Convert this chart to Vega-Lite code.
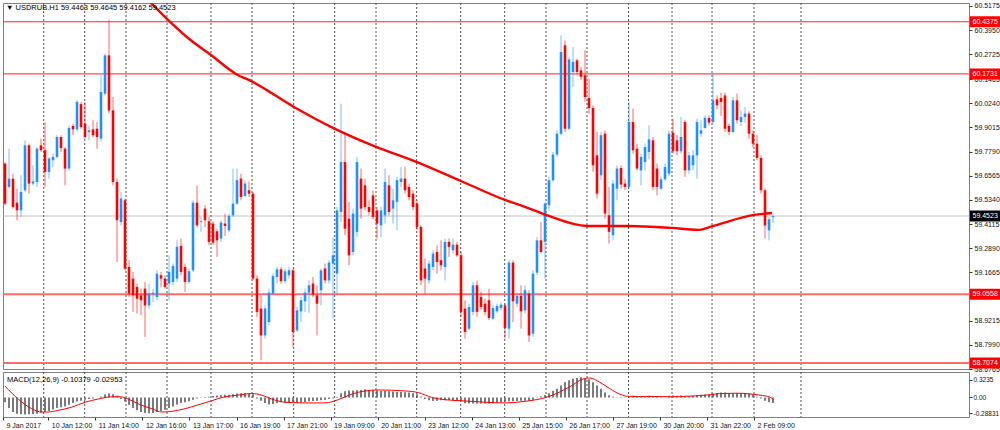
{
"$schema":"https://vega.github.io/schema/vega-lite/v6.json",
"background":"white",
"padding":{"left":1,"top":1,"right":0,"bottom":0},
"spacing":3,
"bounds":"flush",
"config":{"view":{"stroke":"#808080","strokeWidth":1},"font":"Liberation Sans","scale":{"continuousPadding":0},"axis":{"labelOverlap":false,"labelFlush":false,"grid":false,"domain":false,"title":null}},
"datasets":{
"k":[
{"i":0,"o":59.718,"h":59.726,"l":59.506,"c":59.515,"m":-0.089},
{"i":1,"o":59.600,"h":59.794,"l":59.591,"c":59.642,"m":-0.196},
{"i":2,"o":59.642,"h":59.667,"l":59.490,"c":59.498,"m":-0.268},
{"i":3,"o":59.520,"h":59.591,"l":59.431,"c":59.481,"m":-0.298},
{"i":4,"o":59.481,"h":59.659,"l":59.448,"c":59.574,"m":-0.310},
{"i":5,"o":59.583,"h":59.836,"l":59.574,"c":59.811,"m":-0.315},
{"i":6,"o":59.811,"h":59.819,"l":59.566,"c":59.617,"m":-0.310},
{"i":7,"o":59.617,"h":59.710,"l":59.608,"c":59.628,"m":-0.304},
{"i":8,"o":59.625,"h":59.802,"l":59.600,"c":59.794,"m":-0.298},
{"i":9,"o":59.811,"h":59.845,"l":59.777,"c":59.786,"m":-0.280},
{"i":10,"o":59.786,"h":59.929,"l":59.600,"c":59.676,"m":-0.268},
{"i":11,"o":59.676,"h":59.752,"l":59.642,"c":59.744,"m":-0.250},
{"i":12,"o":59.735,"h":59.769,"l":59.701,"c":59.752,"m":-0.220},
{"i":13,"o":59.752,"h":59.862,"l":59.744,"c":59.853,"m":-0.196},
{"i":14,"o":59.853,"h":59.862,"l":59.777,"c":59.797,"m":-0.179},
{"i":15,"o":59.794,"h":59.802,"l":59.608,"c":59.693,"m":-0.167},
{"i":16,"o":59.693,"h":59.912,"l":59.684,"c":59.899,"m":-0.137},
{"i":17,"o":59.909,"h":59.921,"l":59.862,"c":59.892,"m":-0.101},
{"i":18,"o":59.892,"h":60.039,"l":59.882,"c":60.031,"m":-0.077},
{"i":19,"o":60.020,"h":60.030,"l":59.895,"c":59.904,"m":-0.060},
{"i":20,"o":59.921,"h":60.031,"l":59.845,"c":59.853,"m":-0.042},
{"i":21,"o":59.878,"h":59.909,"l":59.836,"c":59.887,"m":-0.030},
{"i":22,"o":59.892,"h":59.938,"l":59.853,"c":59.862,"m":-0.018},
{"i":23,"o":59.895,"h":59.929,"l":59.794,"c":59.853,"m":0.000},
{"i":24,"o":59.845,"h":60.166,"l":59.828,"c":60.081,"m":0.018},
{"i":25,"o":60.073,"h":60.276,"l":60.064,"c":60.267,"m":0.054},
{"i":26,"o":60.267,"h":60.447,"l":59.972,"c":59.988,"m":0.071},
{"i":27,"o":59.988,"h":60.056,"l":59.608,"c":59.625,"m":0.060},
{"i":28,"o":59.625,"h":59.642,"l":59.219,"c":59.431,"m":0.030},
{"i":29,"o":59.422,"h":59.574,"l":59.405,"c":59.541,"m":-0.030},
{"i":30,"o":59.532,"h":59.541,"l":59.177,"c":59.186,"m":-0.077},
{"i":31,"o":59.194,"h":59.228,"l":59.042,"c":59.059,"m":-0.137},
{"i":32,"o":59.135,"h":59.169,"l":58.966,"c":59.050,"m":-0.196},
{"i":33,"o":59.093,"h":59.110,"l":58.957,"c":59.033,"m":-0.238},
{"i":34,"o":59.050,"h":59.084,"l":58.949,"c":59.025,"m":-0.268},
{"i":35,"o":59.084,"h":59.118,"l":58.839,"c":58.999,"m":-0.286},
{"i":36,"o":58.999,"h":59.110,"l":58.983,"c":59.059,"m":-0.292},
{"i":37,"o":59.059,"h":59.084,"l":59.016,"c":59.064,"m":-0.286},
{"i":38,"o":59.042,"h":59.177,"l":59.025,"c":59.160,"m":-0.268},
{"i":39,"o":59.152,"h":59.169,"l":59.093,"c":59.135,"m":-0.250},
{"i":40,"o":59.135,"h":59.152,"l":59.084,"c":59.093,"m":-0.226},
{"i":41,"o":59.110,"h":59.253,"l":59.025,"c":59.169,"m":-0.196},
{"i":42,"o":59.118,"h":59.211,"l":59.101,"c":59.199,"m":-0.167},
{"i":43,"o":59.135,"h":59.329,"l":59.118,"c":59.296,"m":-0.131},
{"i":44,"o":59.301,"h":59.338,"l":59.152,"c":59.169,"m":-0.101},
{"i":45,"o":59.194,"h":59.211,"l":59.067,"c":59.118,"m":-0.089},
{"i":46,"o":59.118,"h":59.186,"l":59.110,"c":59.172,"m":-0.071},
{"i":47,"o":59.177,"h":59.532,"l":59.169,"c":59.520,"m":-0.042},
{"i":48,"o":59.520,"h":59.608,"l":59.397,"c":59.405,"m":-0.018},
{"i":49,"o":59.422,"h":59.448,"l":59.372,"c":59.426,"m":-0.006},
{"i":50,"o":59.490,"h":59.507,"l":59.397,"c":59.431,"m":0.006},
{"i":51,"o":59.426,"h":59.448,"l":59.304,"c":59.321,"m":0.012},
{"i":52,"o":59.414,"h":59.426,"l":59.307,"c":59.317,"m":0.024},
{"i":53,"o":59.375,"h":59.388,"l":59.245,"c":59.329,"m":0.036},
{"i":54,"o":59.338,"h":59.431,"l":59.321,"c":59.419,"m":0.042},
{"i":55,"o":59.414,"h":59.465,"l":59.351,"c":59.402,"m":0.048},
{"i":56,"o":59.380,"h":59.465,"l":59.372,"c":59.453,"m":0.048},
{"i":57,"o":59.456,"h":59.693,"l":59.448,"c":59.515,"m":0.060},
{"i":58,"o":59.515,"h":59.693,"l":59.510,"c":59.634,"m":0.071},
{"i":59,"o":59.642,"h":59.667,"l":59.532,"c":59.549,"m":0.077},
{"i":60,"o":59.554,"h":59.634,"l":59.549,"c":59.617,"m":0.077},
{"i":61,"o":59.583,"h":59.628,"l":59.549,"c":59.566,"m":0.071},
{"i":62,"o":59.566,"h":59.574,"l":59.126,"c":59.135,"m":0.060},
{"i":63,"o":59.135,"h":59.152,"l":58.941,"c":58.966,"m":-0.018},
{"i":64,"o":58.983,"h":59.050,"l":58.721,"c":58.847,"m":-0.060},
{"i":65,"o":58.847,"h":58.999,"l":58.831,"c":58.983,"m":-0.101},
{"i":66,"o":58.915,"h":59.084,"l":58.898,"c":59.064,"m":-0.131},
{"i":67,"o":59.059,"h":59.160,"l":59.050,"c":59.148,"m":-0.119},
{"i":68,"o":59.143,"h":59.194,"l":59.110,"c":59.182,"m":-0.101},
{"i":69,"o":59.182,"h":59.194,"l":59.110,"c":59.122,"m":-0.089},
{"i":70,"o":59.122,"h":59.186,"l":59.110,"c":59.172,"m":-0.089},
{"i":71,"o":59.152,"h":59.194,"l":59.135,"c":59.177,"m":-0.083},
{"i":72,"o":59.177,"h":59.186,"l":58.788,"c":58.864,"m":-0.089},
{"i":73,"o":58.873,"h":58.991,"l":58.864,"c":58.974,"m":-0.101},
{"i":74,"o":58.969,"h":59.042,"l":58.915,"c":59.025,"m":-0.095},
{"i":75,"o":59.020,"h":59.084,"l":58.966,"c":59.064,"m":-0.083},
{"i":76,"o":59.064,"h":59.126,"l":58.962,"c":59.101,"m":-0.071},
{"i":77,"o":59.110,"h":59.143,"l":59.042,"c":59.054,"m":-0.065},
{"i":78,"o":59.050,"h":59.101,"l":58.847,"c":59.008,"m":-0.060},
{"i":79,"o":59.076,"h":59.186,"l":58.999,"c":59.177,"m":-0.054},
{"i":80,"o":59.186,"h":59.211,"l":59.110,"c":59.126,"m":-0.042},
{"i":81,"o":59.126,"h":59.228,"l":59.110,"c":59.216,"m":-0.030},
{"i":82,"o":59.211,"h":59.346,"l":58.932,"c":59.253,"m":-0.018},
{"i":83,"o":59.160,"h":59.498,"l":59.050,"c":59.481,"m":0.006},
{"i":84,"o":59.473,"h":60.022,"l":59.422,"c":59.726,"m":0.077},
{"i":85,"o":59.726,"h":59.879,"l":59.355,"c":59.388,"m":0.113},
{"i":86,"o":59.439,"h":59.524,"l":59.203,"c":59.253,"m":0.125},
{"i":87,"o":59.270,"h":59.490,"l":59.253,"c":59.465,"m":0.125},
{"i":88,"o":59.372,"h":59.752,"l":59.346,"c":59.726,"m":0.131},
{"i":89,"o":59.642,"h":59.693,"l":59.439,"c":59.490,"m":0.137},
{"i":90,"o":59.608,"h":59.642,"l":59.481,"c":59.498,"m":0.149},
{"i":91,"o":59.498,"h":59.532,"l":59.456,"c":59.473,"m":0.137},
{"i":92,"o":59.557,"h":59.583,"l":59.436,"c":59.448,"m":0.131},
{"i":93,"o":59.481,"h":59.498,"l":59.338,"c":59.414,"m":0.125},
{"i":94,"o":59.405,"h":59.498,"l":59.346,"c":59.481,"m":0.119},
{"i":95,"o":59.456,"h":59.693,"l":59.414,"c":59.625,"m":0.119},
{"i":96,"o":59.608,"h":59.659,"l":59.456,"c":59.473,"m":0.113},
{"i":97,"o":59.490,"h":59.591,"l":59.414,"c":59.532,"m":0.107},
{"i":98,"o":59.524,"h":59.651,"l":59.380,"c":59.634,"m":0.101},
{"i":99,"o":59.625,"h":59.701,"l":59.600,"c":59.642,"m":0.101},
{"i":100,"o":59.642,"h":59.701,"l":59.566,"c":59.583,"m":0.095},
{"i":101,"o":59.600,"h":59.617,"l":59.532,"c":59.549,"m":0.089},
{"i":102,"o":59.566,"h":59.583,"l":59.481,"c":59.498,"m":0.077},
{"i":103,"o":59.515,"h":59.532,"l":59.380,"c":59.397,"m":0.060},
{"i":104,"o":59.397,"h":59.405,"l":59.101,"c":59.126,"m":0.018},
{"i":105,"o":59.186,"h":59.236,"l":59.059,"c":59.135,"m":-0.030},
{"i":106,"o":59.126,"h":59.228,"l":59.110,"c":59.211,"m":-0.054},
{"i":107,"o":59.194,"h":59.279,"l":59.177,"c":59.262,"m":-0.065},
{"i":108,"o":59.270,"h":59.304,"l":59.160,"c":59.219,"m":-0.060},
{"i":109,"o":59.228,"h":59.329,"l":59.177,"c":59.203,"m":-0.054},
{"i":110,"o":59.194,"h":59.338,"l":59.126,"c":59.321,"m":-0.054},
{"i":111,"o":59.321,"h":59.338,"l":59.245,"c":59.296,"m":-0.048},
{"i":112,"o":59.279,"h":59.338,"l":59.262,"c":59.307,"m":-0.054},
{"i":113,"o":59.307,"h":59.321,"l":59.245,"c":59.253,"m":-0.060},
{"i":114,"o":59.253,"h":59.270,"l":58.941,"c":58.966,"m":-0.077},
{"i":115,"o":58.983,"h":59.025,"l":58.831,"c":58.864,"m":-0.107},
{"i":116,"o":58.881,"h":59.008,"l":58.873,"c":58.991,"m":-0.113},
{"i":117,"o":58.966,"h":59.118,"l":58.949,"c":59.101,"m":-0.113},
{"i":118,"o":59.101,"h":59.126,"l":58.941,"c":58.966,"m":-0.113},
{"i":119,"o":59.042,"h":59.067,"l":58.974,"c":58.991,"m":-0.113},
{"i":120,"o":59.008,"h":59.033,"l":58.949,"c":58.966,"m":-0.113},
{"i":121,"o":59.025,"h":59.084,"l":58.924,"c":58.935,"m":-0.113},
{"i":122,"o":58.932,"h":58.999,"l":58.924,"c":58.986,"m":-0.107},
{"i":123,"o":58.969,"h":59.008,"l":58.962,"c":58.996,"m":-0.101},
{"i":124,"o":58.986,"h":59.013,"l":58.974,"c":59.003,"m":-0.089},
{"i":125,"o":58.999,"h":59.008,"l":58.831,"c":58.885,"m":-0.077},
{"i":126,"o":58.881,"h":59.228,"l":58.831,"c":59.216,"m":-0.071},
{"i":127,"o":59.216,"h":59.228,"l":58.915,"c":59.020,"m":-0.071},
{"i":128,"o":59.008,"h":59.064,"l":58.991,"c":59.047,"m":-0.065},
{"i":129,"o":59.047,"h":59.101,"l":58.881,"c":58.969,"m":-0.060},
{"i":130,"o":58.974,"h":59.101,"l":58.957,"c":59.076,"m":-0.060},
{"i":131,"o":59.059,"h":59.076,"l":58.814,"c":58.847,"m":-0.060},
{"i":132,"o":58.856,"h":59.177,"l":58.839,"c":59.160,"m":-0.042},
{"i":133,"o":59.165,"h":59.346,"l":59.152,"c":59.329,"m":-0.006},
{"i":134,"o":59.329,"h":59.422,"l":59.262,"c":59.270,"m":0.018},
{"i":135,"o":59.321,"h":59.524,"l":59.135,"c":59.515,"m":0.042},
{"i":136,"o":59.507,"h":59.651,"l":59.481,"c":59.634,"m":0.077},
{"i":137,"o":59.634,"h":59.777,"l":59.625,"c":59.764,"m":0.119},
{"i":138,"o":59.764,"h":59.887,"l":59.752,"c":59.870,"m":0.161},
{"i":139,"o":59.870,"h":60.369,"l":59.862,"c":60.284,"m":0.220},
{"i":140,"o":60.318,"h":60.343,"l":59.879,"c":59.895,"m":0.280},
{"i":141,"o":59.895,"h":60.259,"l":59.887,"c":60.247,"m":0.315},
{"i":142,"o":60.183,"h":60.310,"l":60.107,"c":60.234,"m":0.345},
{"i":143,"o":60.242,"h":60.250,"l":60.174,"c":60.183,"m":0.357},
{"i":144,"o":60.191,"h":60.208,"l":60.141,"c":60.158,"m":0.369},
{"i":145,"o":60.166,"h":60.293,"l":60.031,"c":60.056,"m":0.357},
{"i":146,"o":60.051,"h":60.149,"l":59.972,"c":60.000,"m":0.327},
{"i":147,"o":60.000,"h":60.014,"l":59.676,"c":59.710,"m":0.280},
{"i":148,"o":59.760,"h":59.879,"l":59.541,"c":59.566,"m":0.220},
{"i":149,"o":59.659,"h":59.879,"l":59.634,"c":59.862,"m":0.161},
{"i":150,"o":59.870,"h":59.887,"l":59.439,"c":59.465,"m":0.089},
{"i":151,"o":59.456,"h":59.600,"l":59.312,"c":59.372,"m":0.042},
{"i":152,"o":59.355,"h":59.634,"l":59.329,"c":59.617,"m":0.012},
{"i":153,"o":59.591,"h":59.710,"l":59.532,"c":59.693,"m":-0.006},
{"i":154,"o":59.696,"h":59.710,"l":59.591,"c":59.612,"m":-0.012},
{"i":155,"o":59.617,"h":59.642,"l":59.583,"c":59.600,"m":-0.006},
{"i":156,"o":59.600,"h":60.031,"l":59.591,"c":59.929,"m":0.018},
{"i":157,"o":59.929,"h":59.997,"l":59.769,"c":59.786,"m":0.030},
{"i":158,"o":59.794,"h":59.819,"l":59.684,"c":59.693,"m":0.024},
{"i":159,"o":59.684,"h":59.769,"l":59.608,"c":59.752,"m":0.012},
{"i":160,"o":59.726,"h":59.819,"l":59.684,"c":59.802,"m":0.012},
{"i":161,"o":59.777,"h":59.912,"l":59.740,"c":59.841,"m":0.030},
{"i":162,"o":59.836,"h":59.853,"l":59.583,"c":59.600,"m":0.024},
{"i":163,"o":59.693,"h":59.718,"l":59.557,"c":59.600,"m":0.006},
{"i":164,"o":59.591,"h":59.651,"l":59.583,"c":59.639,"m":-0.006},
{"i":165,"o":59.639,"h":59.718,"l":59.628,"c":59.701,"m":0.000},
{"i":166,"o":59.667,"h":59.887,"l":59.655,"c":59.870,"m":0.030},
{"i":167,"o":59.875,"h":59.946,"l":59.769,"c":59.781,"m":0.036},
{"i":168,"o":59.836,"h":59.862,"l":59.760,"c":59.781,"m":0.030},
{"i":169,"o":59.781,"h":59.955,"l":59.769,"c":59.853,"m":0.036},
{"i":170,"o":59.929,"h":59.938,"l":59.651,"c":59.684,"m":0.024},
{"i":171,"o":59.684,"h":59.777,"l":59.667,"c":59.760,"m":0.024},
{"i":172,"o":59.710,"h":59.786,"l":59.684,"c":59.760,"m":0.030},
{"i":173,"o":59.760,"h":59.946,"l":59.642,"c":59.929,"m":0.042},
{"i":174,"o":59.870,"h":59.938,"l":59.853,"c":59.887,"m":0.048},
{"i":175,"o":59.899,"h":59.963,"l":59.895,"c":59.950,"m":0.054},
{"i":176,"o":59.950,"h":59.963,"l":59.912,"c":59.926,"m":0.060},
{"i":177,"o":59.929,"h":60.174,"l":59.921,"c":60.039,"m":0.071},
{"i":178,"o":60.044,"h":60.064,"l":59.993,"c":60.014,"m":0.083},
{"i":179,"o":60.051,"h":60.078,"l":59.960,"c":60.031,"m":0.089},
{"i":180,"o":60.064,"h":60.078,"l":59.879,"c":59.895,"m":0.089},
{"i":181,"o":59.909,"h":59.921,"l":59.862,"c":59.879,"m":0.077},
{"i":182,"o":59.879,"h":60.056,"l":59.870,"c":60.039,"m":0.077},
{"i":183,"o":60.039,"h":60.073,"l":59.921,"c":59.938,"m":0.083},
{"i":184,"o":59.929,"h":59.988,"l":59.909,"c":59.955,"m":0.083},
{"i":185,"o":59.955,"h":60.005,"l":59.926,"c":59.972,"m":0.077},
{"i":186,"o":59.972,"h":59.984,"l":59.845,"c":59.870,"m":0.065},
{"i":187,"o":59.870,"h":59.887,"l":59.802,"c":59.819,"m":0.048},
{"i":188,"o":59.819,"h":59.862,"l":59.735,"c":59.747,"m":0.012},
{"i":189,"o":59.747,"h":59.760,"l":59.566,"c":59.583,"m":-0.018},
{"i":190,"o":59.583,"h":59.591,"l":59.338,"c":59.405,"m":-0.060},
{"i":191,"o":59.380,"h":59.448,"l":59.329,"c":59.436,"m":-0.089},
{"i":192,"o":59.4463,"h":59.4645,"l":59.4162,"c":59.4523,"m":-0.10379}
],
"sig":[
{"i":0,"s":0.208},{"i":3.3,"s":-0.030},{"i":6.7,"s":-0.208},{"i":9.2,"s":-0.268},{"i":10.8,"s":-0.268},{"i":13.3,"s":-0.238},{"i":16.7,"s":-0.179},{"i":20,"s":-0.089},{"i":23.3,"s":-0.030},{"i":26.7,"s":0.012},{"i":28.75,"s":0.012},{"i":30.8,"s":-0.030},{"i":33.3,"s":-0.119},{"i":36.7,"s":-0.208},{"i":39.2,"s":-0.268},{"i":41.7,"s":-0.256},{"i":45,"s":-0.208},{"i":48.3,"s":-0.137},{"i":51.7,"s":-0.060},{"i":55,"s":0.012},{"i":58.3,"s":0.042},{"i":61.7,"s":0.071},{"i":64.2,"s":0.042},{"i":66.7,"s":-0.030},{"i":70,"s":-0.089},{"i":75,"s":-0.101},{"i":80,"s":-0.101},{"i":83.3,"s":-0.042},{"i":86.7,"s":0.060},{"i":90,"s":0.119},{"i":93.3,"s":0.137},{"i":100,"s":0.119},{"i":103.3,"s":0.089},{"i":106.7,"s":0.000},{"i":110,"s":-0.042},{"i":115,"s":-0.065},{"i":120,"s":-0.089},{"i":125,"s":-0.101},{"i":129.5,"s":-0.077},{"i":132.8,"s":-0.042},{"i":135.3,"s":0.000},{"i":138.7,"s":0.101},{"i":141.2,"s":0.196},{"i":144.5,"s":0.339},{"i":146.2,"s":0.357},{"i":148.7,"s":0.280},{"i":151.2,"s":0.161},{"i":153.7,"s":0.060},{"i":156.2,"s":0.018},{"i":162,"s":0.018},{"i":166.2,"s":0.012},{"i":171.2,"s":0.024},{"i":176.2,"s":0.048},{"i":178.7,"s":0.071},{"i":182.8,"s":0.077},{"i":186.2,"s":0.065},{"i":188.7,"s":0.042},{"i":191.2,"s":0.006},{"i":192,"s":-0.02953}
],
"ma":[
{"i":32,"p":60.624},{"i":36.25,"p":60.538},{"i":40.75,"p":60.447},{"i":45.75,"p":60.355},{"i":51.5,"p":60.269},{"i":57.75,"p":60.173},{"i":62,"p":60.132},{"i":72.25,"p":60.005},{"i":82.5,"p":59.894},{"i":92.75,"p":59.803},{"i":103,"p":59.726},{"i":114,"p":59.630},{"i":125,"p":59.534},{"i":129.5,"p":59.503},{"i":135.25,"p":59.458},{"i":145.5,"p":59.402},{"i":155.75,"p":59.402},{"i":166.75,"p":59.392},{"i":173.25,"p":59.382},{"i":177,"p":59.402},{"i":187.25,"p":59.458},{"i":191.75,"p":59.468}
],
"grid":[
{"g":9.675},{"g":19.925},{"g":30.25},{"g":40.5},{"g":51.5},{"g":61.75},{"g":72.175},{"g":82.425},{"g":92.75},{"g":102.925},{"g":113.925},{"g":124.925},{"g":135.25},{"g":145.5},{"g":155.875},{"g":166.75},{"g":176.75},{"g":187.25},{"g":199}
],
"lv":[{"p":60.4375},{"p":60.1731},{"p":59.0558},{"p":58.7074}]
},
"vconcat":[
{
"width":966,"height":366,
"layer":[
{"data":{"values":[{"p":59.4523}]},"mark":{"type":"rule","color":"#c4c4c4","strokeWidth":1},
 "encoding":{"y":{"field":"p","type":"quantitative","title":null,"scale":{"domain":[58.6765,60.5327],"nice":false,"zero":false,"padding":0},
  "axis":{"orient":"right","title":null,"grid":false,"domain":false,"values":[60.5175,60.395,60.2725,60.1465,60.024,59.9015,59.779,59.6565,59.534,59.4115,59.289,59.1665,59.044,58.9215,58.799,58.6765],"format":".4f","labelFontSize":7,"labelColor":"#111","tickSize":3,"tickColor":"#333","labelPadding":2,"labelOverlap":false,"labelFlush":false,"labelBound":false}}}},
{"data":{"name":"grid"},"mark":{"type":"rule","strokeDash":[2,2],"color":"#505050","strokeWidth":1},
 "encoding":{"x":{"field":"g","type":"quantitative","scale":{"domain":[-0.5,241],"nice":false,"zero":false,"padding":0},"axis":null}}},
{"data":{"name":"lv"},"mark":{"type":"rule"},
 "encoding":{"y":{"field":"p","type":"quantitative","title":null,"scale":{"domain":[58.6765,60.5327],"nice":false,"zero":false,"padding":0},
  "axis":{"orient":"right","title":null,"grid":false,"domain":false,"values":[60.5175,60.395,60.2725,60.1465,60.024,59.9015,59.779,59.6565,59.534,59.4115,59.289,59.1665,59.044,58.9215,58.799,58.6765],"format":".4f","labelFontSize":7,"labelColor":"#111","tickSize":3,"tickColor":"#333","labelPadding":2,"labelOverlap":false,"labelFlush":false,"labelBound":false}},
  "color":{"condition":{"test":"datum.p < 59.2","value":"#ff6a6a"},"value":"#ff2020"},
  "strokeWidth":{"condition":{"test":"datum.p < 59.2","value":2},"value":1}}},
{"data":{"name":"k"},"mark":{"type":"rule","strokeWidth":1,"opacity":0.6},
 "encoding":{"x":{"field":"i","type":"quantitative","scale":{"domain":[-0.5,241],"nice":false,"zero":false,"padding":0},"axis":null},
  "y":{"field":"l","type":"quantitative","title":null,"scale":{"domain":[58.6765,60.5327],"nice":false,"zero":false,"padding":0},
  "axis":{"orient":"right","title":null,"grid":false,"domain":false,"values":[60.5175,60.395,60.2725,60.1465,60.024,59.9015,59.779,59.6565,59.534,59.4115,59.289,59.1665,59.044,58.9215,58.799,58.6765],"format":".4f","labelFontSize":7,"labelColor":"#111","tickSize":3,"tickColor":"#333","labelPadding":2,"labelOverlap":false,"labelFlush":false,"labelBound":false}},
  "y2":{"field":"h"},
  "color":{"condition":{"test":"datum.c >= datum.o","value":"#1e90ff"},"value":"#ff0000"}}},
{"data":{"name":"k"},"mark":{"type":"bar","width":2.6},
 "encoding":{"x":{"field":"i","type":"quantitative","scale":{"domain":[-0.5,241],"nice":false,"zero":false,"padding":0},"axis":null},
  "y":{"field":"o","type":"quantitative","title":null,"scale":{"domain":[58.6765,60.5327],"nice":false,"zero":false,"padding":0},
  "axis":{"orient":"right","title":null,"grid":false,"domain":false,"values":[60.5175,60.395,60.2725,60.1465,60.024,59.9015,59.779,59.6565,59.534,59.4115,59.289,59.1665,59.044,58.9215,58.799,58.6765],"format":".4f","labelFontSize":7,"labelColor":"#111","tickSize":3,"tickColor":"#333","labelPadding":2,"labelOverlap":false,"labelFlush":false,"labelBound":false}},
  "y2":{"field":"c"},
  "color":{"condition":{"test":"datum.c >= datum.o","value":"#1e90ff"},"value":"#ff0000"}}},
{"data":{"name":"ma"},"mark":{"type":"line","color":"#ff0000","strokeWidth":2.4,"interpolate":"monotone","clip":true},
 "encoding":{"x":{"field":"i","type":"quantitative","scale":{"domain":[-0.5,241],"nice":false,"zero":false,"padding":0},"axis":null},
  "y":{"field":"p","type":"quantitative","title":null,"scale":{"domain":[58.6765,60.5327],"nice":false,"zero":false,"padding":0},
  "axis":{"orient":"right","title":null,"grid":false,"domain":false,"values":[60.5175,60.395,60.2725,60.1465,60.024,59.9015,59.779,59.6565,59.534,59.4115,59.289,59.1665,59.044,58.9215,58.799,58.6765],"format":".4f","labelFontSize":7,"labelColor":"#111","tickSize":3,"tickColor":"#333","labelPadding":2,"labelOverlap":false,"labelFlush":false,"labelBound":false}}}},
{"data":{"values":[{"t":"▼ USDRUB.H1  59.4463 59.4645 59.4162 59.4523"}]},"mark":{"type":"text","align":"left","baseline":"middle","fontSize":7.5,"color":"#000","dx":3},
 "encoding":{"x":{"datum":-0.5,"type":"quantitative","scale":{"domain":[-0.5,241],"nice":false,"zero":false,"padding":0},"axis":null},
  "y":{"datum":60.505,"type":"quantitative","title":null,"scale":{"domain":[58.6765,60.5327],"nice":false,"zero":false,"padding":0},
  "axis":{"orient":"right","title":null,"grid":false,"domain":false,"values":[60.5175,60.395,60.2725,60.1465,60.024,59.9015,59.779,59.6565,59.534,59.4115,59.289,59.1665,59.044,58.9215,58.799,58.6765],"format":".4f","labelFontSize":7,"labelColor":"#111","tickSize":3,"tickColor":"#333","labelPadding":2,"labelOverlap":false,"labelFlush":false,"labelBound":false}},
  "text":{"field":"t"}}},
{"data":{"name":"lv"},"mark":{"type":"rule","color":"#ff0000","strokeWidth":11},
 "encoding":{"x":{"datum":241.2,"type":"quantitative","scale":{"domain":[-0.5,241],"nice":false,"zero":false,"padding":0},"axis":null},
  "x2":{"datum":249.5},
  "y":{"field":"p","type":"quantitative","title":null,"scale":{"domain":[58.6765,60.5327],"nice":false,"zero":false,"padding":0},
  "axis":{"orient":"right","title":null,"grid":false,"domain":false,"values":[60.5175,60.395,60.2725,60.1465,60.024,59.9015,59.779,59.6565,59.534,59.4115,59.289,59.1665,59.044,58.9215,58.799,58.6765],"format":".4f","labelFontSize":7,"labelColor":"#111","tickSize":3,"tickColor":"#333","labelPadding":2,"labelOverlap":false,"labelFlush":false,"labelBound":false}}}},
{"data":{"values":[{"p":59.4523}]},"mark":{"type":"rule","color":"#000000","strokeWidth":11},
 "encoding":{"x":{"datum":241.2,"type":"quantitative","scale":{"domain":[-0.5,241],"nice":false,"zero":false,"padding":0},"axis":null},
  "x2":{"datum":249.5},
  "y":{"field":"p","type":"quantitative","title":null,"scale":{"domain":[58.6765,60.5327],"nice":false,"zero":false,"padding":0},
  "axis":{"orient":"right","title":null,"grid":false,"domain":false,"values":[60.5175,60.395,60.2725,60.1465,60.024,59.9015,59.779,59.6565,59.534,59.4115,59.289,59.1665,59.044,58.9215,58.799,58.6765],"format":".4f","labelFontSize":7,"labelColor":"#111","tickSize":3,"tickColor":"#333","labelPadding":2,"labelOverlap":false,"labelFlush":false,"labelBound":false}}}},
{"data":{"values":[{"p":60.4375},{"p":60.1731},{"p":59.0558},{"p":58.7074},{"p":59.4523}]},"mark":{"type":"text","align":"left","baseline":"middle","fontSize":7,"color":"#ffffff","dx":1.5},
 "encoding":{"x":{"datum":241.5,"type":"quantitative","scale":{"domain":[-0.5,241],"nice":false,"zero":false,"padding":0},"axis":null},
  "y":{"field":"p","type":"quantitative","title":null,"scale":{"domain":[58.6765,60.5327],"nice":false,"zero":false,"padding":0},
  "axis":{"orient":"right","title":null,"grid":false,"domain":false,"values":[60.5175,60.395,60.2725,60.1465,60.024,59.9015,59.779,59.6565,59.534,59.4115,59.289,59.1665,59.044,58.9215,58.799,58.6765],"format":".4f","labelFontSize":7,"labelColor":"#111","tickSize":3,"tickColor":"#333","labelPadding":2,"labelOverlap":false,"labelFlush":false,"labelBound":false}},
  "text":{"field":"p","format":".4f"}}}
]
},
{
"width":966,"height":45,
"layer":[
{"data":{"name":"k"},"mark":{"type":"bar","width":2,"color":"#7a7a7a"},
 "encoding":{"x":{"field":"i","type":"quantitative","title":null,"scale":{"domain":[-0.5,241],"nice":false,"zero":false,"padding":0},
   "axis":{"orient":"bottom","title":null,"grid":false,"domain":false,"values":[-0.5,10.825,22.59,34.35,46.11,57.875,69.64,81.4,93.16,104.925,116.69,128.45,140.21,151.975,163.74,175.5,187.26],"labelExpr":"datum.value < 5 ? '9 Jan 2017' : datum.value < 16 ? '10 Jan 12:00' : datum.value < 28 ? '11 Jan 14:00' : datum.value < 40 ? '12 Jan 16:00' : datum.value < 52 ? '13 Jan 17:00' : datum.value < 63 ? '16 Jan 19:00' : datum.value < 75 ? '17 Jan 21:00' : datum.value < 87 ? '19 Jan 09:00' : datum.value < 99 ? '20 Jan 11:00' : datum.value < 110 ? '23 Jan 12:00' : datum.value < 122 ? '24 Jan 13:00' : datum.value < 134 ? '25 Jan 15:00' : datum.value < 146 ? '26 Jan 17:00' : datum.value < 158 ? '27 Jan 19:00' : datum.value < 170 ? '30 Jan 20:00' : datum.value < 181 ? '31 Jan 22:00' : '2 Feb 09:00'","labelAlign":"left","labelOffset":3,"labelFontSize":7,"labelColor":"#111","tickSize":3,"tickColor":"#333","labelPadding":1,"labelOverlap":false,"labelFlush":false,"labelBound":false}},
  "y":{"field":"m","type":"quantitative","title":null,"scale":{"domain":[-0.36,0.467],"nice":false,"zero":false,"padding":0},
   "axis":{"orient":"right","title":null,"grid":false,"domain":false,"values":[0.3235,0,-0.28831],"labelExpr":"datum.value > 0.1 ? '0.3235' : datum.value < -0.1 ? '-0.28831' : '0.00'","labelFontSize":6.5,"labelColor":"#111","tickSize":3,"tickColor":"#333","labelPadding":1,"labelOverlap":false,"labelFlush":false,"labelBound":false}},
  "y2":{"datum":0}}},
{"data":{"name":"grid"},"mark":{"type":"rule","strokeDash":[2,2],"color":"#505050","strokeWidth":1},
 "encoding":{"x":{"field":"g","type":"quantitative","title":null,"scale":{"domain":[-0.5,241],"nice":false,"zero":false,"padding":0},
   "axis":{"orient":"bottom","title":null,"grid":false,"domain":false,"values":[-0.5,10.825,22.59,34.35,46.11,57.875,69.64,81.4,93.16,104.925,116.69,128.45,140.21,151.975,163.74,175.5,187.26],"labelExpr":"datum.value < 5 ? '9 Jan 2017' : datum.value < 16 ? '10 Jan 12:00' : datum.value < 28 ? '11 Jan 14:00' : datum.value < 40 ? '12 Jan 16:00' : datum.value < 52 ? '13 Jan 17:00' : datum.value < 63 ? '16 Jan 19:00' : datum.value < 75 ? '17 Jan 21:00' : datum.value < 87 ? '19 Jan 09:00' : datum.value < 99 ? '20 Jan 11:00' : datum.value < 110 ? '23 Jan 12:00' : datum.value < 122 ? '24 Jan 13:00' : datum.value < 134 ? '25 Jan 15:00' : datum.value < 146 ? '26 Jan 17:00' : datum.value < 158 ? '27 Jan 19:00' : datum.value < 170 ? '30 Jan 20:00' : datum.value < 181 ? '31 Jan 22:00' : '2 Feb 09:00'","labelAlign":"left","labelOffset":3,"labelFontSize":7,"labelColor":"#111","tickSize":3,"tickColor":"#333","labelPadding":1,"labelOverlap":false,"labelFlush":false,"labelBound":false}}}},
{"data":{"name":"sig"},"mark":{"type":"line","color":"#ff0000","strokeWidth":1,"interpolate":"monotone"},
 "encoding":{"x":{"field":"i","type":"quantitative","title":null,"scale":{"domain":[-0.5,241],"nice":false,"zero":false,"padding":0},
   "axis":{"orient":"bottom","title":null,"grid":false,"domain":false,"values":[-0.5,10.825,22.59,34.35,46.11,57.875,69.64,81.4,93.16,104.925,116.69,128.45,140.21,151.975,163.74,175.5,187.26],"labelExpr":"datum.value < 5 ? '9 Jan 2017' : datum.value < 16 ? '10 Jan 12:00' : datum.value < 28 ? '11 Jan 14:00' : datum.value < 40 ? '12 Jan 16:00' : datum.value < 52 ? '13 Jan 17:00' : datum.value < 63 ? '16 Jan 19:00' : datum.value < 75 ? '17 Jan 21:00' : datum.value < 87 ? '19 Jan 09:00' : datum.value < 99 ? '20 Jan 11:00' : datum.value < 110 ? '23 Jan 12:00' : datum.value < 122 ? '24 Jan 13:00' : datum.value < 134 ? '25 Jan 15:00' : datum.value < 146 ? '26 Jan 17:00' : datum.value < 158 ? '27 Jan 19:00' : datum.value < 170 ? '30 Jan 20:00' : datum.value < 181 ? '31 Jan 22:00' : '2 Feb 09:00'","labelAlign":"left","labelOffset":3,"labelFontSize":7,"labelColor":"#111","tickSize":3,"tickColor":"#333","labelPadding":1,"labelOverlap":false,"labelFlush":false,"labelBound":false}},
  "y":{"field":"s","type":"quantitative","title":null,"scale":{"domain":[-0.36,0.467],"nice":false,"zero":false,"padding":0},
   "axis":{"orient":"right","title":null,"grid":false,"domain":false,"values":[0.3235,0,-0.28831],"labelExpr":"datum.value > 0.1 ? '0.3235' : datum.value < -0.1 ? '-0.28831' : '0.00'","labelFontSize":6.5,"labelColor":"#111","tickSize":3,"tickColor":"#333","labelPadding":1,"labelOverlap":false,"labelFlush":false,"labelBound":false}}}},
{"data":{"values":[{"t":"MACD(12,26,9) -0.10379 -0.02953"}]},"mark":{"type":"text","align":"left","baseline":"middle","fontSize":7.5,"color":"#000","dx":4},
 "encoding":{"x":{"datum":-0.5,"type":"quantitative","title":null,"scale":{"domain":[-0.5,241],"nice":false,"zero":false,"padding":0},
   "axis":{"orient":"bottom","title":null,"grid":false,"domain":false,"values":[-0.5,10.825,22.59,34.35,46.11,57.875,69.64,81.4,93.16,104.925,116.69,128.45,140.21,151.975,163.74,175.5,187.26],"labelExpr":"datum.value < 5 ? '9 Jan 2017' : datum.value < 16 ? '10 Jan 12:00' : datum.value < 28 ? '11 Jan 14:00' : datum.value < 40 ? '12 Jan 16:00' : datum.value < 52 ? '13 Jan 17:00' : datum.value < 63 ? '16 Jan 19:00' : datum.value < 75 ? '17 Jan 21:00' : datum.value < 87 ? '19 Jan 09:00' : datum.value < 99 ? '20 Jan 11:00' : datum.value < 110 ? '23 Jan 12:00' : datum.value < 122 ? '24 Jan 13:00' : datum.value < 134 ? '25 Jan 15:00' : datum.value < 146 ? '26 Jan 17:00' : datum.value < 158 ? '27 Jan 19:00' : datum.value < 170 ? '30 Jan 20:00' : datum.value < 181 ? '31 Jan 22:00' : '2 Feb 09:00'","labelAlign":"left","labelOffset":3,"labelFontSize":7,"labelColor":"#111","tickSize":3,"tickColor":"#333","labelPadding":1,"labelOverlap":false,"labelFlush":false,"labelBound":false}},
  "y":{"datum":0.32,"type":"quantitative","title":null,"scale":{"domain":[-0.36,0.467],"nice":false,"zero":false,"padding":0},
   "axis":{"orient":"right","title":null,"grid":false,"domain":false,"values":[0.3235,0,-0.28831],"labelExpr":"datum.value > 0.1 ? '0.3235' : datum.value < -0.1 ? '-0.28831' : '0.00'","labelFontSize":6.5,"labelColor":"#111","tickSize":3,"tickColor":"#333","labelPadding":1,"labelOverlap":false,"labelFlush":false,"labelBound":false}},
  "text":{"field":"t"}}}
]
}
]
}
